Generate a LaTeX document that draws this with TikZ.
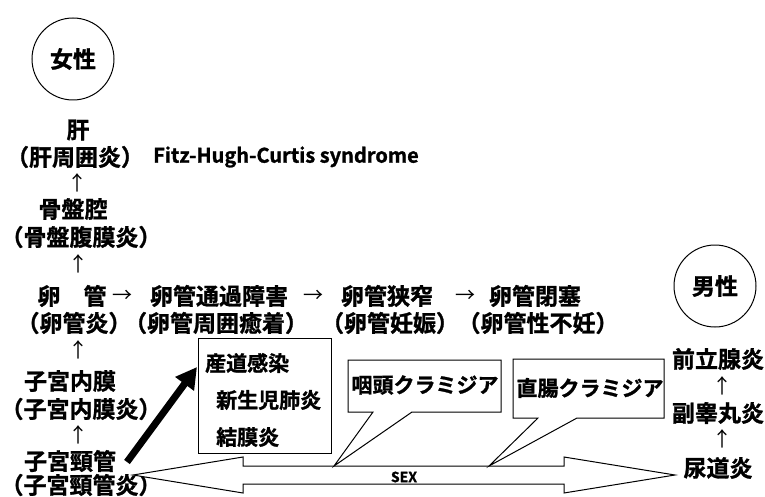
\documentclass[tikz,border=0pt]{standalone}
\usepackage{fontspec}
\newfontfamily\jp{Noto Sans CJK JP}
\newfontfamily\jpheavy{Noto Sans CJK JP Bold}[FakeBold=1.2]
\usetikzlibrary{arrows.meta}
\tikzset{
  lbl/.style={font=\jpheavy\fontsize{23}{26}\selectfont, inner sep=0pt, text=black},
  boxtxt/.style={font=\jpheavy\fontsize{21}{24}\selectfont, inner sep=0pt, text=black},
  glyph/.style={font=\jp\fontsize{20}{22}\selectfont, inner sep=0pt, text=black},
  latin/.style={font=\jpheavy\fontsize{20}{22}\selectfont, inner sep=0pt, text=black},
  small/.style={font=\jpheavy\fontsize{14}{16}\selectfont, inner sep=0pt, text=black},
  circ/.style={draw, line width=1pt, circle, minimum size=82pt, inner sep=0pt, font=\jpheavy\fontsize{23}{25}\selectfont},
  thin/.style={draw, line width=1pt, fill=white},
}
\begin{document}
\begin{tikzpicture}[x=1pt,y=-1pt]
\useasboundingbox (0,0) rectangle (765,497);
% female column
\node[circ] (female) at (73,59) {女性};
\node[lbl] (kan) at (78,130) {肝};
\node[lbl] (kanen) at (75,157) {（肝周囲炎）};
\node[latin, anchor=west] (fitz) at (153,157) {Fitz-Hugh-Curtis syndrome};
\node[glyph] (up1) at (77,183) {↑};
\node[lbl] (bon) at (73,209) {骨盤腔};
\node[lbl] (bonen) at (81,237) {（骨盤腹膜炎）};
\node[glyph] (up2) at (78,264) {↑};
\node[lbl] (rankan) at (72,296) {卵　管};
\node[lbl] (ranen) at (74,323) {（卵管炎）};
\node[glyph] (up3) at (78,350) {↑};
\node[lbl] (naimaku) at (70,381) {子宮内膜};
\node[lbl] (naimakuen) at (81,409) {（子宮内膜炎）};
\node[glyph] (up4) at (78,435) {↑};
\node[lbl] (keikan) at (70,461) {子宮頸管};
\node[lbl] (keikanen) at (81,485) {（子宮頸管炎）};
% row
\node[glyph] (r1) at (122,296) {→};
\node[lbl] (tsuka) at (219,296) {卵管通過障害};
\node[lbl] (yuchaku) at (216,323) {（卵管周囲癒着）};
\node[glyph] (r2) at (313,296) {→};
\node[lbl] (kyo) at (387,296) {卵管狭窄};
\node[lbl] (ninshin) at (390,323) {（卵管妊娠）};
\node[glyph] (r3) at (465,296) {→};
\node[lbl] (heisoku) at (535,296) {卵管閉塞};
\node[lbl] (funin) at (538,323) {（卵管性不妊）};
% male column
\node[circ] (male) at (715,286) {男性};
\node[lbl] (zenritsu) at (718,359) {前立腺炎};
\node[glyph] (up5) at (722,386) {↑};
\node[lbl] (fuku) at (718,413) {副睾丸炎};
\node[glyph] (up6) at (722,439) {↑};
\node[lbl] (nyodo) at (718,468) {尿道炎};
% birth canal box
\draw[thin] (198,338) rectangle (331,453);
\node[boxtxt, anchor=west] (sando) at (205,363) {産道感染};
\node[boxtxt, anchor=west] (haien) at (216,400) {新生児肺炎};
\node[boxtxt, anchor=west] (ketsu) at (216,437) {結膜炎};
\coordinate (boxin) at (197,367);
\coordinate (tail) at (127,462);
\draw[line width=7pt, -{Triangle[length=21pt,width=22pt]}] (tail) -- (boxin);
% double arrow SEX
\draw[thin, line join=miter] (133,475) -- (243,457) -- (243,466) -- (564,466) -- (564,457) -- (675,475)
  -- (564,493) -- (564,484) -- (243,484) -- (243,493) -- cycle;
\node[small] (sex) at (404,477) {SEX};
% callouts
\draw[thin, line join=miter] (348,360) -- (501,360) -- (501,412) -- (412,412) -- (334,466) -- (373,412) -- (348,412) -- cycle;
\node[boxtxt] (inton) at (425,385) {咽頭クラミジア};
\draw[thin, line join=miter] (513,359) -- (664,359) -- (664,418) -- (577,418) -- (489,466) -- (538,418) -- (513,418) -- cycle;
\node[boxtxt] (chokucho) at (590,388) {直腸クラミジア};
\end{tikzpicture}
\end{document}
